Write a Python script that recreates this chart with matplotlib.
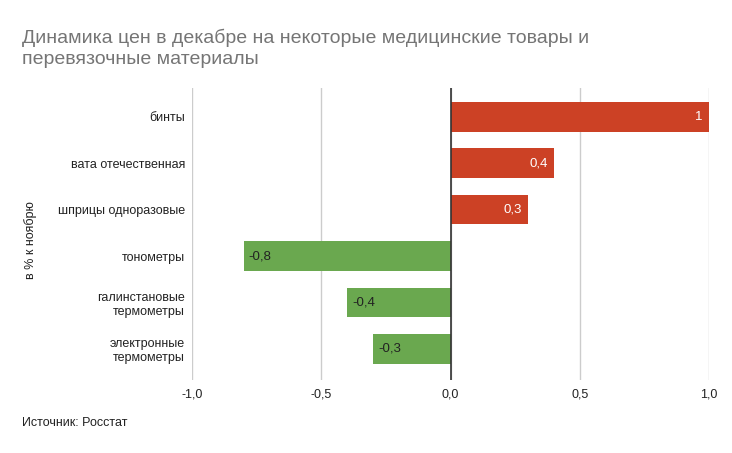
import matplotlib.pyplot as plt
from matplotlib.ticker import FixedLocator, FuncFormatter

plt.rcParams['font.family'] = ['Liberation Sans', 'DejaVu Sans']

categories = ["бинты", "вата отечественная", "шприцы одноразовые", "тонометры",
              "галинстановые\nтермометры", "электронные\nтермометры"]
values = [1.0, 0.4, 0.3, -0.8, -0.4, -0.3]
value_labels = ["1", "0,4", "0,3", "-0,8", "-0,4", "-0,3"]
x_ticks = [-1.0, -0.5, 0.0, 0.5, 1.0]

RED = "#cc4125"
GREEN = "#6aa84f"

W, H = 732, 453
fig = plt.figure(figsize=(W / 100, H / 100), dpi=100)
# axes placed in pixel coordinates of the reference
left, right, top, bottom = 192, 709, 88, 380
ax = fig.add_axes([left / W, 1 - bottom / H, (right - left) / W, (bottom - top) / H])

ypos = list(range(len(categories)))
colors = [RED if v > 0 else GREEN for v in values]
ax.barh(ypos, values, height=0.64, color=colors, zorder=3)

for y, v, lab in zip(ypos, values, value_labels):
    if v > 0:
        ax.text(v - 0.025, y, lab, ha="right", va="center", color="white", fontsize=9.5, zorder=4)
    else:
        ax.text(v + 0.02, y, lab, ha="left", va="center", color="#222222", fontsize=9.5, zorder=4)

ax.set_xlim(-1.0, 1.0)
ax.set_ylim(5.67, -0.62)
ax.xaxis.set_major_locator(FixedLocator(x_ticks))
ax.xaxis.set_major_formatter(FuncFormatter(lambda x, _: f"{x:.1f}".replace(".", ",")))
ax.set_yticks(ypos)
ax.set_yticklabels(categories, fontsize=9, color="#222222", linespacing=1.2)
ax.tick_params(axis="both", length=0, colors="#222222", labelsize=9)
ax.tick_params(axis="x", pad=6)
ax.tick_params(axis="y", pad=5)

ax.grid(axis="x", color="#cccccc", linewidth=1, zorder=0)
ax.axvline(0, color="#333333", linewidth=1.2, zorder=5)
for s in ax.spines.values():
    s.set_visible(False)

fig.text(31 / W, 1 - 240 / H, "в % к ноябрю", rotation=90, ha="center", va="center",
         fontsize=9, color="#222222")
fig.text(22 / W, 1 - 38 / H, "Динамика цен в декабре на некоторые медицинские товары и",
         fontsize=14, color="#757575", ha="left", va="center")
fig.text(22 / W, 1 - 60 / H, "перевязочные материалы",
         fontsize=14, color="#757575", ha="left", va="center")
fig.text(22 / W, 1 - 423 / H, "Источник: Росстат", fontsize=9, color="#222222",
         ha="left", va="center")

fig.savefig("out.png", dpi=100)
